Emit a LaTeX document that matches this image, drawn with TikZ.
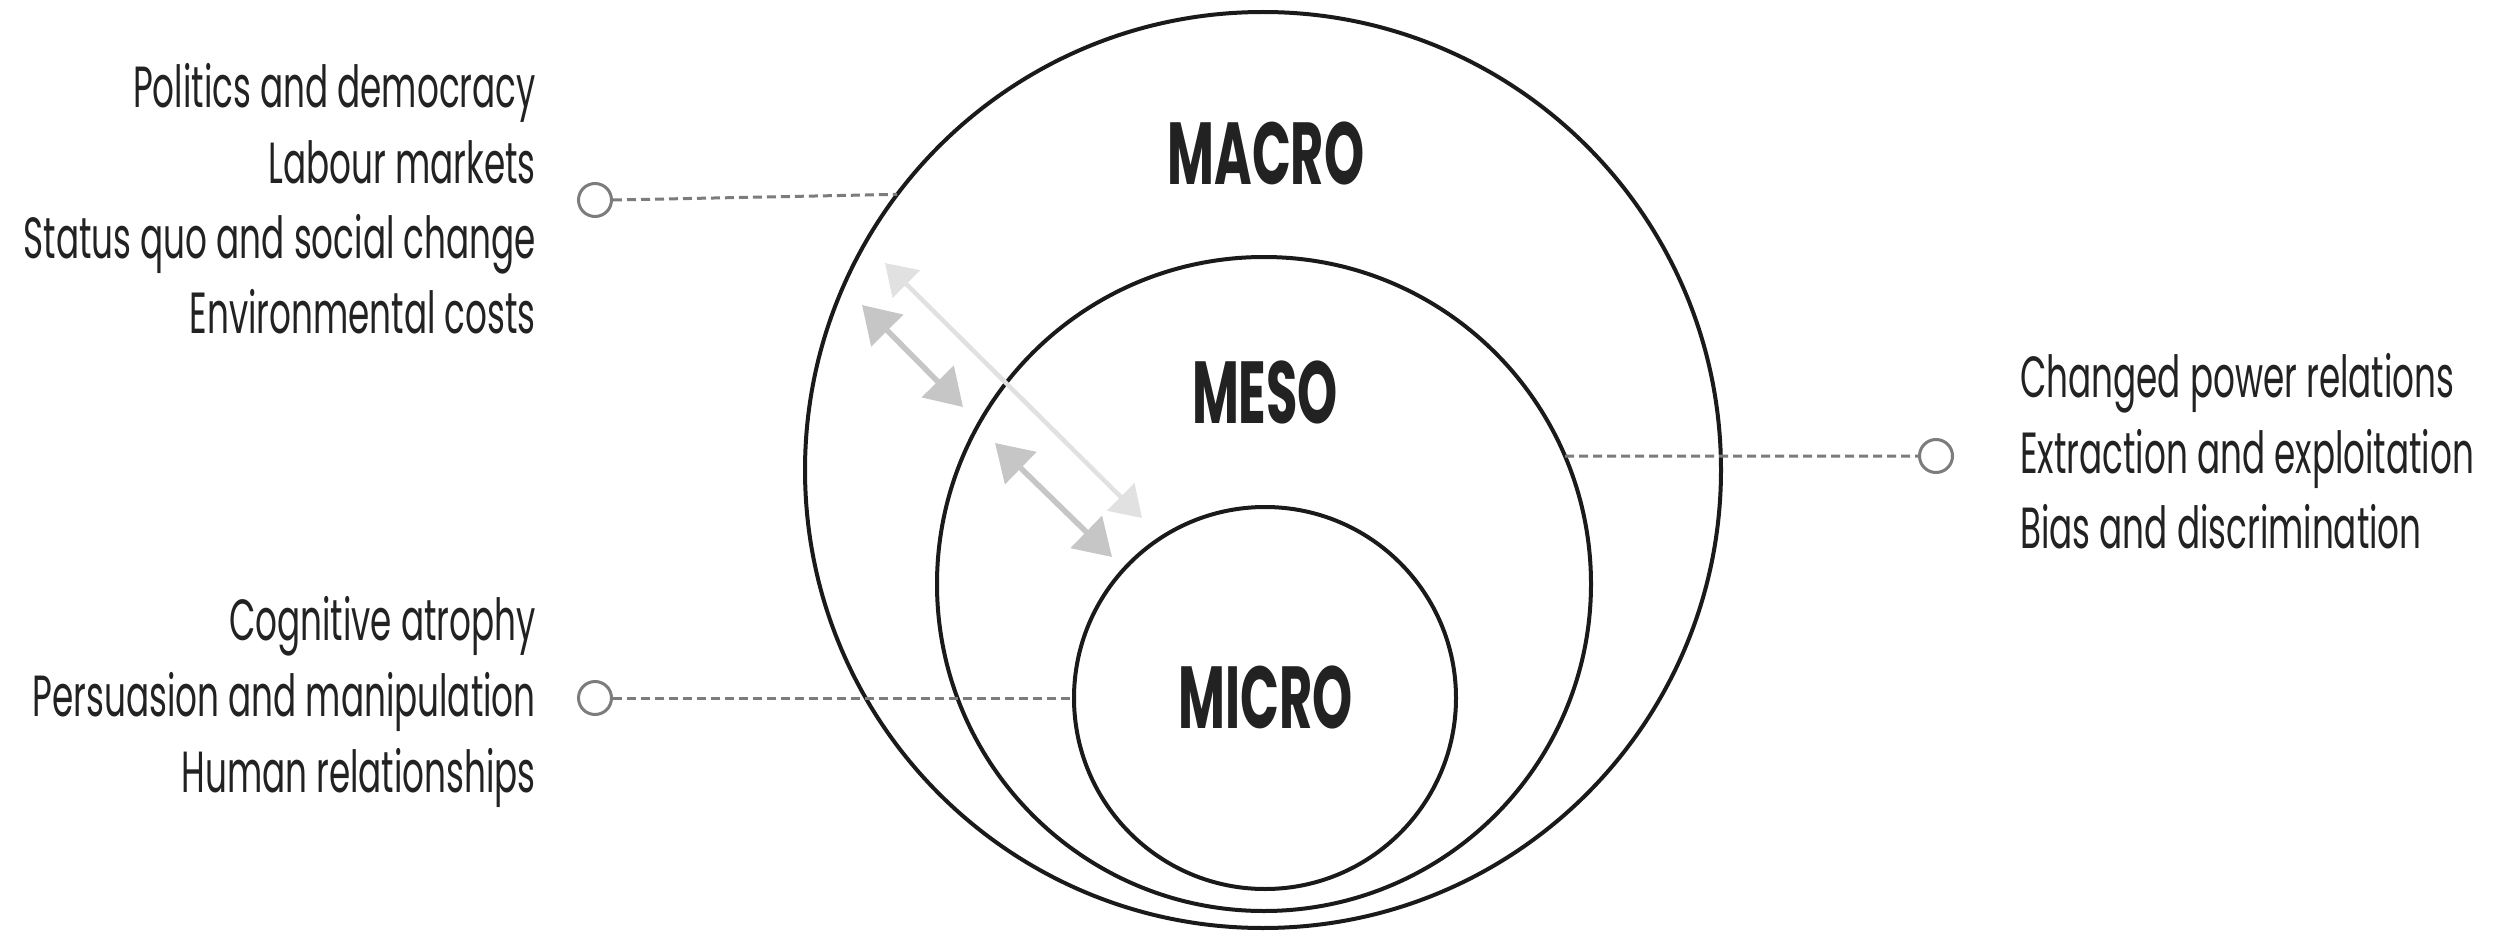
\documentclass[tikz,border=0pt]{standalone}
\usepackage{fontspec}
\setmainfont{Poppins}
\newfontfamily\listfont[FakeStretch=0.59]{Poppins}
\newfontfamily\labfont[FakeStretch=0.58]{Poppins}
\usetikzlibrary{arrows.meta}
\definecolor{ringcol}{HTML}{1A1A1A}
\definecolor{leadcol}{HTML}{7C7C7C}
\definecolor{txtcol}{HTML}{222222}
\definecolor{arrmid}{HTML}{C6C6C6}
\definecolor{arrlight}{HTML}{E1E1E1}
\tikzset{
  ring/.style={circle, draw=ringcol, line width=4pt, inner sep=0pt, outer sep=0pt},
  lead/.style={draw=leadcol, line width=3pt, dash pattern=on 9pt off 5pt},
  marker/.style={circle, draw=leadcol, line width=3pt, minimum size=33pt, inner sep=0pt, outer sep=1.5pt},
  listtext/.style={font=\listfont\fontsize{58}{64}\selectfont, text=txtcol, inner sep=0pt},
  lvl/.style={font=\labfont\bfseries\fontsize{88}{90}\selectfont, text=txtcol, inner sep=0pt},
  midarrow/.style={draw=arrmid, line width=5.5pt,
    {Triangle[length=36pt,width=44pt]}-{Triangle[length=36pt,width=44pt]}},
  lightarrow/.style={draw=arrlight, line width=4.5pt,
    {Triangle[length=30pt,width=38pt]}-{Triangle[length=30pt,width=38pt]}}
}
\begin{document}
\begin{tikzpicture}[x=1pt,y=-1pt]
\useasboundingbox (0,0) rectangle (2509,931);
\fill[white] (0,0) rectangle (2509,931);

% rings
\node[ring, minimum size=916pt] (macro) at (1263,470) {};
\node[ring, minimum size=654pt] (meso) at (1264,584) {};
\node[ring, minimum size=382pt] (micro) at (1265,698) {};

% level labels
\node[lvl, anchor=base] (lmacro) at (1266,185) {MACRO};
\node[lvl, anchor=base] (lmeso) at (1265,423) {MESO};
\node[lvl, anchor=base] (lmicro) at (1266,728) {MICRO};

% arrows
\coordinate (la1) at (885,263);
\coordinate (la2) at (1142,518);
\coordinate (ma1) at (862,305);
\coordinate (ma2) at (963,407);
\coordinate (mb1) at (995,443);
\coordinate (mb2) at (1112,557);
\draw[lightarrow] (la1) -- (la2);
\draw[midarrow] (ma1) -- (ma2);
\draw[midarrow] (mb1) -- (mb2);

% markers and leaders
\node[marker] (mk1) at (595,200) {};
\node[marker] (mk2) at (595,698) {};
\node[marker] (mk3) at (1936,456) {};
\draw[lead] (mk1.east) -- (macro.143.88);
\draw[lead] (mk2.east) -- (micro.west);
\draw[lead] (meso.23.05) -- (mk3.west);

% left top list
\node[listtext, anchor=base east] (t1) at (536,108) {Politics and democracy};
\node[listtext, anchor=base east] (t2) at (536,183) {Labour markets};
\node[listtext, anchor=base east] (t3) at (536,258) {Status quo and social change};
\node[listtext, anchor=base east] (t4) at (536,333) {Environmental costs};
% left bottom list
\node[listtext, anchor=base east] (b1) at (536,640) {Cognitive atrophy};
\node[listtext, anchor=base east] (b2) at (536,716) {Persuasion and manipulation};
\node[listtext, anchor=base east] (b3) at (536,792) {Human relationships};
% right list
\node[listtext, anchor=base west] (r1) at (2020,397) {Changed power relations};
\node[listtext, anchor=base west] (r2) at (2020,473) {Extraction and exploitation};
\node[listtext, anchor=base west] (r3) at (2020,548) {Bias and discrimination};
\end{tikzpicture}
\end{document}
